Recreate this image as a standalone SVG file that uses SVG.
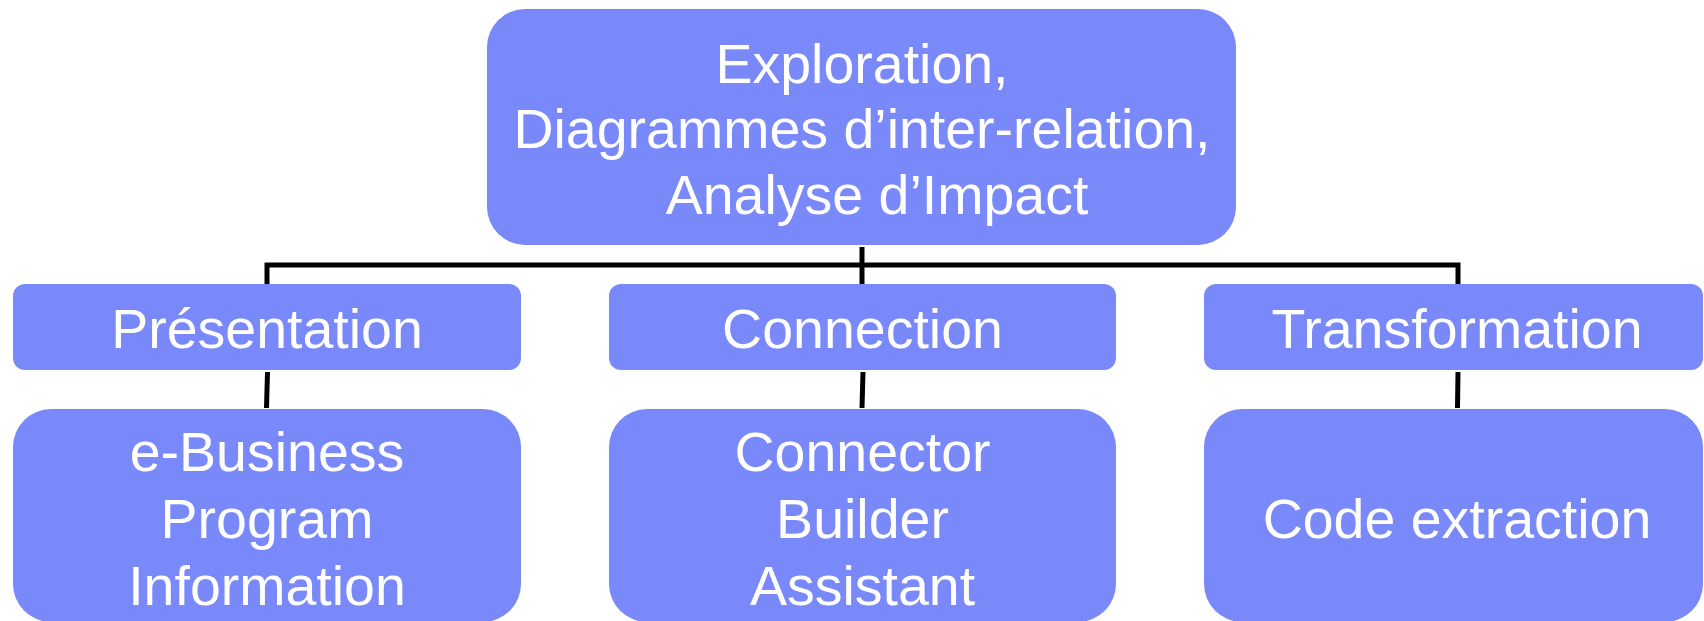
<svg xmlns="http://www.w3.org/2000/svg" width="1704" height="621" viewBox="0 0 1704 621">
  <style>
    .box { fill: #7A89FA; }
    .label { font-family: "Liberation Sans", Arial, sans-serif; font-size: 55.5px; fill: #FFFFFF; text-anchor: middle; }
    .link { fill: none; stroke: #000000; stroke-width: 5; stroke-linecap: butt; stroke-linejoin: miter; }
  </style>
  <rect width="1704" height="621" fill="#FFFFFF"/>

  <!-- connectors -->
  <g id="connectors">
    <path class="link" d="M862,247 V284"/>
    <path class="link" d="M267,284 V265 H1458 V284"/>
    <path class="link" d="M267.5,372 L266.5,408"/>
    <path class="link" d="M863,372 L862,408"/>
    <path class="link" d="M1458,372 L1457.5,408"/>
  </g>

  <!-- root -->
  <g id="node-exploration">
    <rect class="box" x="487" y="9" width="749" height="236" rx="38" ry="38"/>
    <text class="label" x="862" y="83">Exploration,</text>
    <text class="label" x="862" y="148">Diagrammes d’inter-relation,</text>
    <text class="label" x="877" y="214">Analyse d’Impact</text>
  </g>

  <!-- second level -->
  <g id="node-presentation">
    <rect class="box" x="13" y="284" width="508" height="86" rx="12" ry="12"/>
    <text class="label" x="267" y="348">Présentation</text>
  </g>
  <g id="node-connection">
    <rect class="box" x="609" y="284" width="507" height="86" rx="12" ry="12"/>
    <text class="label" x="862.5" y="348">Connection</text>
  </g>
  <g id="node-transformation">
    <rect class="box" x="1204" y="284" width="499" height="86" rx="12" ry="12"/>
    <text class="label" x="1457" y="348">Transformation</text>
  </g>

  <!-- third level -->
  <g id="node-ebusiness">
    <rect class="box" x="13" y="409" width="508" height="213" rx="38" ry="38"/>
    <text class="label" x="267" y="471">e-Business</text>
    <text class="label" x="267" y="538">Program</text>
    <text class="label" x="267" y="605">Information</text>
  </g>
  <g id="node-connector-builder">
    <rect class="box" x="609" y="409" width="507" height="213" rx="38" ry="38"/>
    <text class="label" x="862.5" y="471">Connector</text>
    <text class="label" x="862.5" y="538">Builder</text>
    <text class="label" x="862.5" y="605">Assistant</text>
  </g>
  <g id="node-code-extraction">
    <rect class="box" x="1204" y="409" width="499" height="213" rx="38" ry="38"/>
    <text class="label" x="1457" y="538">Code extraction</text>
  </g>
</svg>
